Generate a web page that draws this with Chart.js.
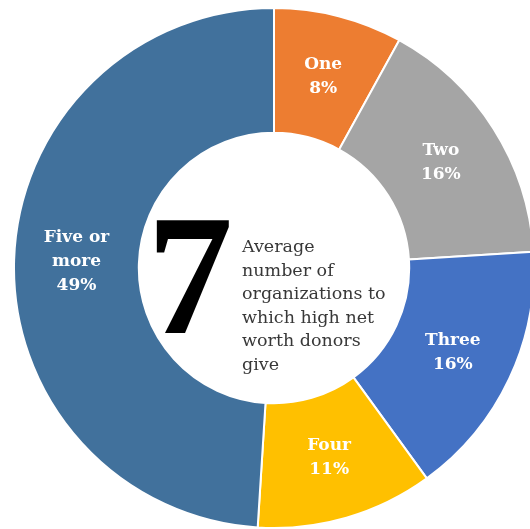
<!DOCTYPE html>
<html>
<head>
<meta charset="utf-8">
<title>High net worth donors</title>
<script src="https://cdn.jsdelivr.net/npm/chart.js@4.4.0/dist/chart.umd.min.js"></script>
<style>
  html, body { margin: 0; padding: 0; background: #fff; overflow: hidden; width: 530px; height: 529px; }
  #wrap { position: absolute; left: 13px; top: 7px; width: 522px; height: 522px; }
</style>
</head>
<body>
<div id="wrap"><canvas id="donorChart"></canvas></div>
<script>
"use strict"

// number of organizations a donor gives to
var categories = ["One", "Two", "Three", "Four", "Five or more"];
var labelLines = [["One"], ["Two"], ["Three"], ["Four"], ["Five or", "more"]];
var shares = [8, 16, 16, 11, 49];
var sliceColors = ["#ED7D31", "#A5A5A5", "#4472C4", "#FFC000", "#41719C"];

var centerNumber = "7";
var centerLines = ["Average", "number of", "organizations to", "which high net", "worth donors", "give"];

var textPlugin = {
  id: 'textPlugin',
  afterDatasetsDraw: function(chart) {
    var ctx = chart.ctx;
    var arcs = chart.getDatasetMeta(0).data;
    ctx.save();

    // slice labels
    ctx.fillStyle = '#fff';
    ctx.font = 'bold 17px "DejaVu Serif"';
    ctx.textAlign = 'center';
    ctx.textBaseline = 'middle';
    arcs.forEach(function(arc, i) {
      var p = arc.tooltipPosition();
      var lines = labelLines[i].concat([shares[i] + '%']);
      var lh = 24;
      var y0 = p.y - (lines.length - 1) * lh / 2;
      lines.forEach(function(t, j) {
        ctx.fillText(t, p.x, y0 + j * lh);
      });
    });

    // big number and caption in the hole
    var cx = arcs[0].x, cy = arcs[0].y;
    ctx.textAlign = 'left';
    ctx.textBaseline = 'alphabetic';
    ctx.fillStyle = '#000';
    ctx.font = 'bold 172px "Liberation Serif"';
    ctx.fillText(centerNumber, cx - 127, cy + 65);

    ctx.fillStyle = '#383838';
    ctx.font = '17.5px "DejaVu Serif"';
    centerLines.forEach(function(t, j) {
      ctx.fillText(t, cx - 32, cy - 16 + j * 23.6);
    });
    ctx.restore();
  }
};

var ctx = document.getElementById("donorChart").getContext('2d');
var donorChart = new Chart(ctx, {
  type: 'doughnut',
  data: {
    labels: categories,
    datasets: [{
      data: shares,
      backgroundColor: sliceColors,
      borderColor: '#fff',
      borderWidth: 2,
      hoverOffset: 0
    }]
  },
  options: {
    responsive: true,
    maintainAspectRatio: false,
    animation: false,
    events: [],
    cutout: '52%',
    layout: { padding: 0 },
    plugins: {
      legend: { display: false },
      tooltip: { enabled: false }
    }
  },
  plugins: [textPlugin]
});
</script>
</body>
</html>
